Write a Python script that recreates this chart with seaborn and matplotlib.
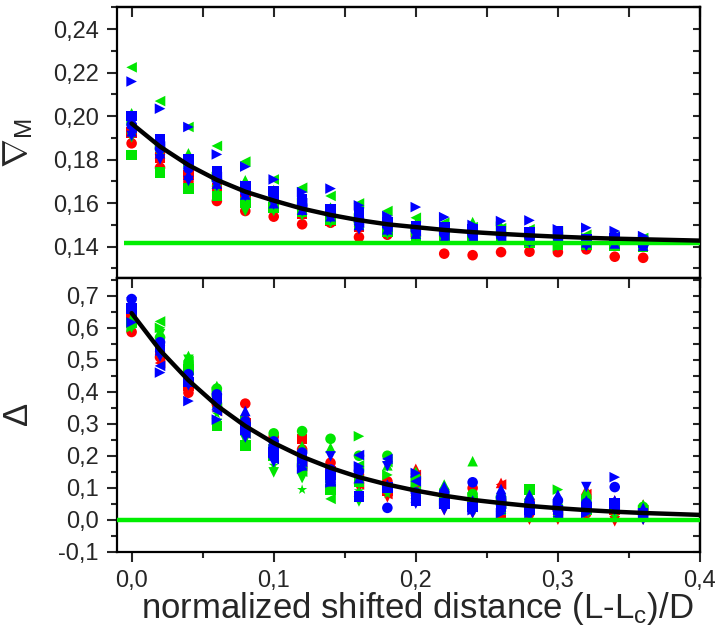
import pandas as pd
import numpy as np
import matplotlib
matplotlib.use('Agg')
import matplotlib.pyplot as plt
import seaborn as sns
from matplotlib.ticker import MultipleLocator, FuncFormatter

# x positions of the data columns
x_vals = [0.00, 0.02, 0.04, 0.06, 0.08, 0.10, 0.12, 0.14, 0.16, 0.18,
          0.20, 0.22, 0.24, 0.26, 0.28, 0.30, 0.32, 0.34, 0.36]

# top panel (nabla_M)
top_red_o = [0.1875, 0.1763, 0.1699, 0.1610, 0.1564, 0.1538, 0.1503, 0.1510, 0.1444, 0.1455,
             0.1449, 0.1368, 0.1361, 0.1375, 0.1377, 0.1375, 0.1388, 0.1354, 0.1349]
top_red_s = [0.1925, 0.1810, 0.1730, 0.1670, 0.1620, 0.1580, 0.1550, 0.1520, 0.1490, 0.1470,
             0.1455, 0.1445, 0.1440, 0.1435, 0.1430, 0.1425, 0.1420, 0.1418, 0.1415]
top_red_tri = [0.1950, 0.1850, 0.1760, 0.1700, 0.1650, 0.1610, 0.1575, 0.1545, 0.1515, 0.1495,
               0.1480, 0.1465, 0.1455, 0.1450, 0.1445, 0.1440, 0.1435, 0.1430, 0.1428]
top_green_left = [0.2224, 0.2069, 0.1950, 0.1863, 0.1791, 0.1709, 0.1671, 0.1633, 0.1599, 0.1564,
                  0.1533, 0.1510, 0.1490, 0.1485, 0.1480, 0.1470, 0.1455, 0.1446, 0.1440]
top_green_up = [0.2013, 0.1880, 0.1829, 0.1745, 0.1705, 0.1660, 0.1620, 0.1580, 0.1545, 0.1530,
                0.1505, 0.1490, 0.1513, 0.1492, 0.1470, 0.1460, 0.1441, 0.1440, 0.1430]
top_green_down = [0.1902, 0.1820, 0.1750, 0.1660, 0.1564, 0.1564, 0.1544, 0.1510, 0.1490, 0.1457,
                  0.1460, 0.1450, 0.1440, 0.1440, 0.1430, 0.1404, 0.1420, 0.1410, 0.1410]
top_green_s = [0.1821, 0.1740, 0.1668, 0.1633, 0.1604, 0.1580, 0.1560, 0.1525, 0.1500, 0.1470,
               0.1450, 0.1440, 0.1430, 0.1430, 0.1420, 0.1410, 0.1410, 0.1405, 0.1400]
top_green_right = [0.1980, 0.1870, 0.1790, 0.1720, 0.1680, 0.1630, 0.1600, 0.1560, 0.1530, 0.1500,
                   0.1480, 0.1470, 0.1460, 0.1492, 0.1450, 0.1403, 0.1440, 0.1435, 0.1430]
top_blue_right = [0.2159, 0.2034, 0.1950, 0.1824, 0.1768, 0.1709, 0.1651, 0.1667, 0.1590, 0.1541,
                  0.1582, 0.1536, 0.1500, 0.1518, 0.1521, 0.1480, 0.1487, 0.1472, 0.1449]
top_blue_s = [0.2000, 0.1893, 0.1801, 0.1748, 0.1679, 0.1656, 0.1617, 0.1571, 0.1557, 0.1510,
              0.1495, 0.1487, 0.1480, 0.1470, 0.1464, 0.1473, 0.1434, 0.1440, 0.1419]
top_blue_o = [0.1960, 0.1850, 0.1760, 0.1710, 0.1650, 0.1620, 0.1590, 0.1550, 0.1520, 0.1495,
              0.1475, 0.1465, 0.1455, 0.1450, 0.1445, 0.1440, 0.1420, 0.1430, 0.1410]
top_blue_up = [0.1930, 0.1830, 0.1730, 0.1690, 0.1640, 0.1600, 0.1570, 0.1540, 0.1500, 0.1480,
               0.1460, 0.1440, 0.1440, 0.1434, 0.1430, 0.1434, 0.1420, 0.1415, 0.1405]
top_blue_down = [0.1909, 0.1801, 0.1702, 0.1679, 0.1633, 0.1594, 0.1564, 0.1533, 0.1480, 0.1472,
                 0.1457, 0.1434, 0.1434, 0.1434, 0.1418, 0.1434, 0.1403, 0.1425, 0.1404]
top_blue_left = [0.1945, 0.1860, 0.1780, 0.1720, 0.1660, 0.1630, 0.1600, 0.1560, 0.1510, 0.1490,
                 0.1470, 0.1450, 0.1445, 0.1440, 0.1440, 0.1445, 0.1430, 0.1445, 0.1425]

# bottom panel (Delta)
bot_red_o = [0.587, 0.508, 0.397, 0.361, 0.363, 0.260, 0.220, 0.178, 0.140, 0.120,
             0.100, 0.070, 0.099, 0.060, 0.040, 0.030, 0.020, 0.042, 0.020]
bot_red_s = [0.630, 0.530, 0.420, 0.370, 0.300, 0.210, 0.253, 0.150, 0.120, 0.090,
             0.080, 0.050, 0.050, 0.020, 0.030, 0.010, 0.030, 0.030, 0.010]
bot_red_up = [0.640, 0.560, 0.450, 0.400, 0.330, 0.250, 0.200, 0.160, 0.130, 0.110,
              0.159, 0.090, 0.080, 0.115, 0.060, 0.050, 0.094, 0.060, 0.047]
bot_red_down = [0.600, 0.500, 0.410, 0.350, 0.280, 0.190, 0.136, 0.120, 0.100, 0.070,
                0.060, 0.030, 0.020, 0.010, 0.000, 0.000, 0.010, -0.005, 0.000]
bot_red_left = [0.620, 0.490, 0.430, 0.340, 0.270, 0.220, 0.170, 0.140, 0.110, 0.080,
                0.140, 0.060, 0.040, 0.110, 0.050, 0.020, 0.080, 0.050, 0.030]
bot_green_o = [0.610, 0.570, 0.490, 0.410, 0.290, 0.270, 0.277, 0.253, 0.200, 0.200,
               0.130, 0.090, 0.080, 0.070, 0.050, 0.040, 0.070, 0.050, 0.040]
bot_green_s = [0.615, 0.540, 0.470, 0.293, 0.232, 0.200, 0.160, 0.094, 0.120, 0.100,
               0.080, 0.060, 0.040, 0.030, 0.094, 0.020, 0.030, 0.040, 0.020]
bot_green_up = [0.630, 0.586, 0.512, 0.418, 0.320, 0.250, 0.230, 0.225, 0.150, 0.170,
                0.150, 0.110, 0.183, 0.090, 0.080, 0.060, 0.090, 0.045, 0.047]
bot_green_down = [0.600, 0.580, 0.500, 0.300, 0.250, 0.148, 0.130, 0.120, 0.057, 0.100,
                  0.120, 0.080, 0.050, 0.040, 0.030, 0.040, 0.040, 0.020, 0.020]
bot_green_left = [0.650, 0.620, 0.496, 0.350, 0.270, 0.190, 0.150, 0.065, 0.170, 0.180,
                  0.090, 0.070, 0.060, 0.050, 0.040, 0.030, 0.050, 0.035, 0.030]
bot_green_right = [0.602, 0.600, 0.470, 0.400, 0.310, 0.220, 0.180, 0.130, 0.261, 0.140,
                   0.110, 0.060, 0.070, 0.060, 0.050, 0.094, 0.060, 0.040, 0.030]
bot_green_star = [0.620, 0.520, 0.440, 0.330, 0.260, 0.170, 0.094, 0.110, 0.090, 0.080,
                  0.060, 0.050, 0.030, 0.030, 0.020, 0.010, 0.020, 0.010, 0.010]
bot_blue_o = [0.690, 0.555, 0.455, 0.392, 0.308, 0.245, 0.210, 0.157, 0.151, 0.037,
              0.085, 0.085, 0.117, 0.069, 0.053, 0.060, 0.052, 0.102, 0.022]
bot_blue_s = [0.660, 0.540, 0.430, 0.380, 0.290, 0.210, 0.190, 0.140, 0.073, 0.100,
              0.060, 0.050, 0.040, 0.040, 0.030, 0.030, 0.040, 0.050, 0.020]
bot_blue_up = [0.670, 0.530, 0.440, 0.360, 0.340, 0.230, 0.170, 0.120, 0.130, 0.110,
               0.070, 0.104, 0.060, 0.096, 0.078, 0.078, 0.060, 0.060, 0.037]
bot_blue_down = [0.680, 0.510, 0.420, 0.350, 0.257, 0.180, 0.200, 0.198, 0.140, 0.167,
                 0.050, 0.030, 0.020, 0.030, 0.010, 0.020, 0.102, 0.030, 0.000]
bot_blue_left = [0.650, 0.481, 0.430, 0.340, 0.270, 0.190, 0.180, 0.120, 0.202, 0.190,
                 0.120, 0.060, 0.040, 0.050, 0.040, 0.010, 0.040, 0.040, 0.010]
bot_blue_right = [0.617, 0.460, 0.371, 0.313, 0.280, 0.220, 0.160, 0.116, 0.167, 0.100,
                  0.146, 0.050, 0.030, 0.020, 0.020, 0.040, 0.020, 0.133, 0.020]

# fitted curves
curve_x = [0.00, 0.02, 0.04, 0.06, 0.08, 0.10, 0.12, 0.14, 0.16, 0.18, 0.20,
           0.22, 0.24, 0.26, 0.28, 0.30, 0.32, 0.34, 0.36, 0.38, 0.40]
top_fit = [0.1966, 0.1860, 0.1775, 0.1707, 0.1653, 0.1612, 0.1575, 0.1546, 0.1522, 0.1503, 0.1490,
           0.1477, 0.1467, 0.1459, 0.1452, 0.1446, 0.1441, 0.1437, 0.1434, 0.1431, 0.1428]
bot_fit = [0.646, 0.530, 0.436, 0.357, 0.293, 0.240, 0.197, 0.162, 0.133, 0.110, 0.091,
           0.075, 0.062, 0.052, 0.043, 0.036, 0.030, 0.025, 0.021, 0.018, 0.015]
top_ref = 0.1415
bot_ref = 0.0

colors = {'red': '#ff0000', 'green': '#00e600', 'blue': '#0000ff'}
top_series = [('red', 'o', top_red_o), ('red', 's', top_red_s), ('red', '^', top_red_tri),
              ('green', '<', top_green_left), ('green', '^', top_green_up),
              ('green', 'v', top_green_down), ('green', 's', top_green_s),
              ('green', '>', top_green_right),
              ('blue', '>', top_blue_right), ('blue', 's', top_blue_s), ('blue', 'o', top_blue_o),
              ('blue', '^', top_blue_up), ('blue', 'v', top_blue_down), ('blue', '<', top_blue_left)]
bot_series = [('red', 'o', bot_red_o), ('red', 's', bot_red_s), ('red', '^', bot_red_up),
              ('red', 'v', bot_red_down), ('red', '<', bot_red_left),
              ('green', 'o', bot_green_o), ('green', 's', bot_green_s), ('green', '^', bot_green_up),
              ('green', 'v', bot_green_down), ('green', '<', bot_green_left),
              ('green', '>', bot_green_right), ('green', '*', bot_green_star),
              ('blue', 'o', bot_blue_o), ('blue', 's', bot_blue_s), ('blue', '^', bot_blue_up),
              ('blue', 'v', bot_blue_down), ('blue', '<', bot_blue_left), ('blue', '>', bot_blue_right)]


def to_frame(series):
    rows = []
    for col, mk, vals in series:
        for xv, yv in zip(x_vals, vals):
            rows.append({'x': xv, 'y': yv, 'color': col, 'marker': mk})
    return pd.DataFrame(rows)


sns.set_style('white')
plt.rcParams['font.family'] = ['Liberation Sans', 'DejaVu Sans']
plt.rcParams['mathtext.fontset'] = 'custom'
plt.rcParams['mathtext.rm'] = 'Liberation Sans'
plt.rcParams['mathtext.it'] = 'Liberation Sans'

fig = plt.figure(figsize=(7.15, 6.32), dpi=100)
ax_top = fig.add_axes([0.1632, 0.5597, 0.8158, 0.4288])
ax_bot = fig.add_axes([0.1632, 0.1271, 0.8158, 0.4326])

marker_map = {'o': 'o', 's': 's', '^': '^', 'v': 'v', '<': '<', '>': '>', '*': '*'}

for ax, series, fit, ref in [(ax_top, top_series, top_fit, top_ref),
                             (ax_bot, bot_series, bot_fit, bot_ref)]:
    df = to_frame(series)
    sns.scatterplot(data=df, x='x', y='y', hue='color', style='marker', palette=colors,
                    markers=marker_map, s=58, linewidth=0, legend=False, ax=ax, zorder=2)
    sns.lineplot(x=curve_x, y=fit, color='black', lw=3.2, ax=ax, zorder=4)
    ax.hlines(ref, -0.0055 if ax is ax_top else -0.0105, 0.4, color='#00ee00', lw=3.2, zorder=3)
    ax.set_xlim(-0.0105, 0.4)
    ax.xaxis.set_major_locator(MultipleLocator(0.1))
    ax.xaxis.set_minor_locator(MultipleLocator(0.05))
    for sp in ax.spines.values():
        sp.set_linewidth(1.6)
        sp.set_color('black')


def comma(fmt):
    def f(v, p):
        if abs(v) < 1e-9:
            v = 0.0
        return (fmt % v).replace('.', ',')
    return FuncFormatter(f)


ax_top.set_ylim(0.1255, 0.25)
ax_top.yaxis.set_major_locator(MultipleLocator(0.02))
ax_top.yaxis.set_minor_locator(MultipleLocator(0.01))
ax_top.yaxis.set_major_formatter(comma('%.2f'))
ax_bot.set_ylim(-0.1, 0.755)
ax_bot.yaxis.set_major_locator(MultipleLocator(0.1))
ax_bot.yaxis.set_minor_locator(MultipleLocator(0.05))
ax_bot.yaxis.set_major_formatter(comma('%.1f'))
ax_bot.xaxis.set_major_formatter(comma('%.1f'))

for ax in (ax_top, ax_bot):
    ax.tick_params(axis='both', which='both', direction='out', width=1.5, labelsize=17,
                   left=True, bottom=True, top=False, right=False, pad=6)
    ax.tick_params(which='major', length=7)
    ax.tick_params(which='minor', length=4)
    sec_y = ax.secondary_yaxis('right')
    sec_y.yaxis.set_major_locator(ax.yaxis.get_minor_locator())
    sec_y.tick_params(direction='in', length=5, width=1.5, labelright=False)
    sec_x = ax.secondary_xaxis('top')
    sec_x.xaxis.set_major_locator(MultipleLocator(0.05))
    sec_x.tick_params(direction='in', length=7, width=1.5, labeltop=False)
    for sp in sec_y.spines.values():
        sp.set_linewidth(1.6)
    for sp in sec_x.spines.values():
        sp.set_linewidth(1.6)

ax_bot.tick_params(axis='x', pad=6)
ax_top.tick_params(axis='x', labelbottom=False)
ax_top.set_xlabel('')
ax_top.set_ylabel(r'$\nabla_{\rm M}$', fontsize=25)
ax_bot.set_ylabel(r'$\Delta$', fontsize=25)
ax_top.yaxis.set_label_coords(-0.14, 0.5)
ax_bot.yaxis.set_label_coords(-0.14, 0.5)
ax_bot.set_xlabel(r'normalized shifted distance (L-L$_{\rm c}$)/D', fontsize=25)
ax_bot.xaxis.set_label_coords(0.515, -0.142)

fig.savefig('out.png', dpi=100)
